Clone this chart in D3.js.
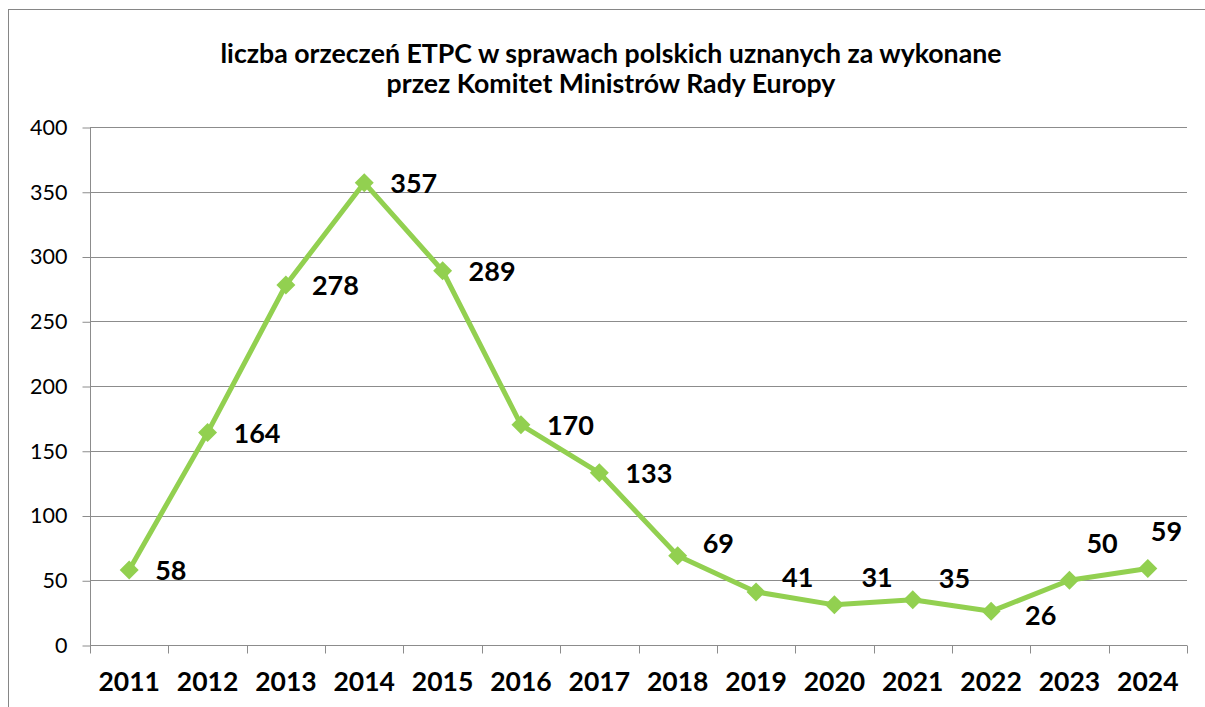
<!DOCTYPE html>
<html lang="pl">
<head>
<meta charset="UTF-8">
<title>Orzeczenia ETPC</title>
<script src="https://cdn.jsdelivr.net/npm/d3@7"></script>
<style>
  body { margin: 0; background: #fff; font-family: Lato, "Open Sans", sans-serif; overflow: hidden; }
</style>
</head>
<body>
<script>
    const years = ['2011', '2012', '2013', '2014', '2015', '2016', '2017', '2018', '2019', '2020', '2021', '2022', '2023', '2024'];
    const values = [58, 164, 278, 357, 289, 170, 133, 69, 41, 31, 35, 26, 50, 59];
    const yTicks = [0, 50, 100, 150, 200, 250, 300, 350, 400];
    const titleLines = ['liczba orzeczeń ETPC w sprawach polskich uznanych za wykonane', 'przez Komitet Ministrów Rady Europy'];

    const width = 1205, height = 707;
    const margin = { top: 127, right: 18, bottom: 62, left: 90 };

    const svg = d3.select('body').append('svg')
        .attr('width', width)
        .attr('height', height);

    // outer frame (runs off the right/bottom edge like in the source)
    svg.append('rect')
        .attr('x', 8.5).attr('y', 9.5)
        .attr('width', 1210).attr('height', 710)
        .attr('fill', '#fff')
        .attr('stroke', '#868686')
        .attr('stroke-width', 1);

    svg.append('text')
        .attr('text-anchor', 'middle')
        .attr('font-weight', 'bold')
        .attr('font-size', '26.7px')
        .attr('fill', '#000')
        .selectAll('tspan')
        .data(titleLines)
        .join('tspan')
        .attr('x', 611)
        .attr('y', (d, i) => 63 + i * 30)
        .text(d => d);

    const x = d3.scaleBand()
        .domain(years)
        .range([margin.left, width - margin.right]);

    const y = d3.scaleLinear()
        .domain([0, 400])
        .range([height - margin.bottom, margin.top]);

    // gridlines
    svg.append('g')
        .selectAll('line')
        .data(yTicks.slice(1))
        .join('line')
        .attr('x1', margin.left).attr('x2', width - margin.right)
        .attr('y1', d => Math.round(y(d)) + 0.5).attr('y2', d => Math.round(y(d)) + 0.5)
        .attr('stroke', '#8c8c8c')
        .attr('stroke-width', 1);

    const yAxis = svg.append('g')
        .attr('transform', `translate(${margin.left + 0.5},0.5)`)
        .call(d3.axisLeft(y).tickValues(yTicks).tickSize(8).tickPadding(15));
    yAxis.selectAll('line, path').attr('stroke', '#8c8c8c');
    yAxis.select('.domain').attr('d', `M0,${y(400)}V${y(0)}`);
    yAxis.selectAll('text')
        .attr('font-family', 'Lato, sans-serif')
        .attr('font-size', '21.5px')
        .attr('fill', '#000');

    // category boundary ticks on x axis
    const xAxisG = svg.append('g')
        .attr('transform', `translate(0,${Math.round(y(0)) + 0.5})`);
    xAxisG.append('line')
        .attr('x1', margin.left).attr('x2', width - margin.right)
        .attr('stroke', '#8c8c8c');
    xAxisG.selectAll('.bound')
        .data(years.concat(['end']))
        .join('line')
        .attr('class', 'bound')
        .attr('x1', (d, i) => Math.round(margin.left + i * x.bandwidth()) + 0.5)
        .attr('x2', (d, i) => Math.round(margin.left + i * x.bandwidth()) + 0.5)
        .attr('y1', 0).attr('y2', 8)
        .attr('stroke', '#8c8c8c');
    xAxisG.selectAll('.lbl')
        .data(years)
        .join('text')
        .attr('class', 'lbl')
        .attr('x', d => x(d) + x.bandwidth() / 2)
        .attr('y', 45)
        .attr('text-anchor', 'middle')
        .attr('font-weight', 'bold')
        .attr('font-size', '26.5px')
        .attr('fill', '#000')
        .text(d => d);

    const cx = (d, i) => x(years[i]) + x.bandwidth() / 2;

    svg.append('path')
        .datum(values)
        .attr('fill', 'none')
        .attr('stroke', '#92D050')
        .attr('stroke-width', 5)
        .attr('stroke-linejoin', 'round')
        .attr('d', d3.line().x(cx).y(d => y(d)));

    svg.selectAll('.pt')
        .data(values)
        .join('path')
        .attr('class', 'pt')
        .attr('transform', (d, i) => `translate(${cx(d, i)},${y(d)})`)
        .attr('d', d3.symbol(d3.symbolDiamond2, 230))
        .attr('fill', '#92D050');

    // label placement: left edge offset and baseline offset from the point
    const labelShift = {
        '2018': [25, -3], '2019': [26, -5], '2020': [27, -18], '2021': [26, -12],
        '2022': [34, 14], '2023': [17, -27], '2024': [3, -28]
    };
    const shift = i => labelShift[years[i]] || [26, 10];
    svg.selectAll('.val')
        .data(values)
        .join('text')
        .attr('class', 'val')
        .attr('x', (d, i) => cx(d, i) + shift(i)[0])
        .attr('y', (d, i) => y(d) + shift(i)[1])
        .attr('font-weight', 'bold')
        .attr('font-size', '27px')
        .attr('fill', '#000')
        .text(d => d);
</script>
</body>
</html>
